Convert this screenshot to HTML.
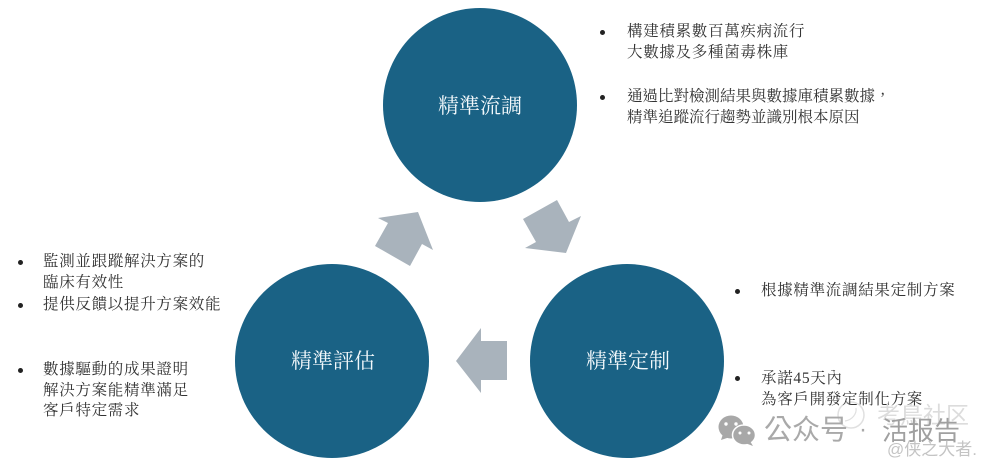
<!DOCTYPE html>
<html lang="zh-Hant">
<head>
<meta charset="utf-8">
<style>
html,body{margin:0;padding:0;background:#fff}
#c{position:relative;width:993px;height:471px;overflow:hidden;background:#fff}
svg{position:absolute;left:0;top:0}
.t{position:absolute;white-space:nowrap;font-family:"Liberation Serif","Noto Serif CJK SC",serif;font-size:15.500px;letter-spacing:.7px;line-height:20.500px;color:#333}
.b{position:absolute;width:5px;height:5px;border-radius:50%;background:#222}
.l{position:absolute;white-space:nowrap;font-family:"Liberation Serif","Noto Serif CJK SC",serif;font-size:21px;line-height:26px;color:#f2f8fb}
.w{position:absolute;white-space:nowrap;font-family:"Liberation Sans","Noto Sans CJK SC",sans-serif;color:#a9a9a9}
.n{letter-spacing:0}
</style>
</head>
<body>
<div id="c">
<svg width="993" height="471" viewBox="0 0 993 471">
<circle cx="480" cy="105" r="97" fill="#1a6285"/>
<circle cx="332" cy="361" r="97" fill="#1a6285"/>
<circle cx="627" cy="361" r="97" fill="#1a6285"/>
<polygon points="378,218 418,212 433,250 422,244 410,266 375,246 388,223" fill="#a9b3bc"/>
<polygon points="523,219 557,200 569,222 581,216 566,253 525,248 536,242" fill="#a9b3bc"/>
<polygon points="456,361 481,328 481,341 507,341 507,380 481,380 481,393" fill="#a9b3bc"/>
<ellipse cx="731" cy="427" rx="12.500" ry="11.500" fill="#a8a8a8"/>
<polygon points="723,434 721,440 730,437" fill="#a8a8a8"/>
<ellipse cx="744" cy="435" rx="11.500" ry="10" fill="#a8a8a8" stroke="#fff" stroke-width="1.500"/>
<polygon points="750,441 753,446 745,443" fill="#a8a8a8"/>
<g fill="#fff">
<circle cx="726" cy="424" r="1.700"/><circle cx="736" cy="424" r="1.700"/>
<circle cx="740" cy="433" r="1.500"/><circle cx="749" cy="433" r="1.500"/>
</g>
<circle cx="851" cy="415" r="13" fill="none" stroke="#e0e0e0" stroke-width="1.500"/>
<path d="M845 421C852 420 857 414 856 408" fill="none" stroke="#e0e0e0" stroke-width="1.200"/>
</svg>

<div class="l" style="left:438px;top:93px">精準流調</div>
<div class="l" style="left:291px;top:348px">精準評估</div>
<div class="l" style="left:586px;top:348px">精準定制</div>

<div class="b" style="left:600px;top:30px"></div>
<div class="t" style="left:627px;top:22px">構建積累數百萬疾病流行<br>大數據及多種菌毒株庫</div>
<div class="b" style="left:600px;top:95px"></div>
<div class="t n" style="left:627px;top:87px">通過比對檢測結果與數據庫積累數據，<br>精準追蹤流行趨勢並識別根本原因</div>

<div class="b" style="left:18px;top:260px"></div>
<div class="t" style="left:43px;top:252px">監測並跟蹤解決方案的<br>臨床有效性</div>
<div class="b" style="left:18px;top:303px"></div>
<div class="t" style="left:43px;top:295px">提供反饋以提升方案效能</div>
<div class="b" style="left:18px;top:368px"></div>
<div class="t" style="left:43px;top:360px">數據驅動的成果證明<br>解決方案能精準滿足<br>客戶特定需求</div>

<div class="b" style="left:735px;top:289px"></div>
<div class="t" style="left:761px;top:281px">根據精準流調結果定制方案</div>
<div class="b" style="left:735px;top:376px"></div>
<div class="t" style="left:761px;top:369px">承諾45天內<br>為客戶開發定制化方案</div>

<div class="w" style="left:877px;top:402px;font-size:23px;line-height:26px;color:#dcdcdc">考鳥社区</div>
<div class="w" style="left:764px;top:414px;font-size:28px;line-height:32px">公众号</div>
<div class="w" style="left:859px;top:414px;font-size:24px;line-height:32px">·</div>
<div class="w" style="left:882px;top:415px;font-size:26px;line-height:32px;color:#a0a0a0">活报告</div>
<div class="w" style="left:887px;top:440px;font-size:17px;line-height:20px;color:#c4c4c4">@侠之大者.</div>
</div>
</body>
</html>
